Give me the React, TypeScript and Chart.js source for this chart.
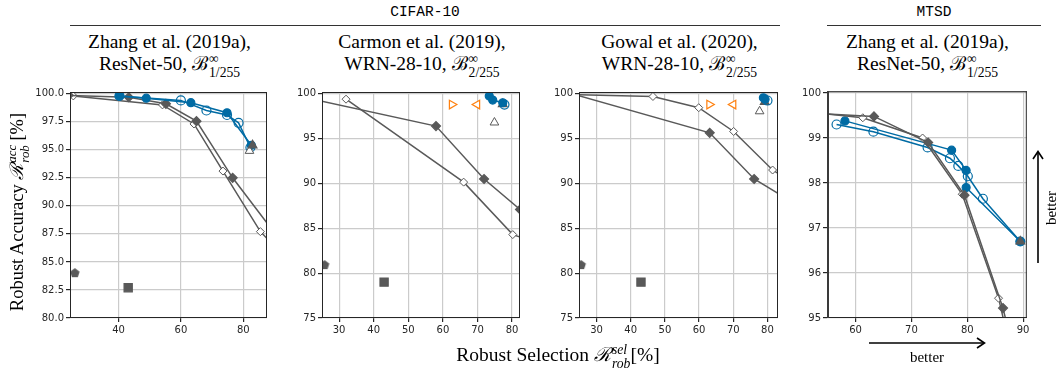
import React, { useEffect, useRef } from "react";
import { Chart, registerables } from "chart.js";

Chart.register(...registerables);

const BLUE = "#006BA4";
const ORANGE = "#FF800E";
const GRAY = "#595959";

type Pt = [number, number];

// ---------- Panel 1: CIFAR-10, Zhang et al. (2019a), ResNet-50 ----------
const p1XTicks = [40, 60, 80];
const p1YTicks = [80, 82.5, 85, 87.5, 90, 92.5, 95, 97.5, 100];
const p1GrayFilled: Pt[] = [[24.0, 99.85], [43.3, 99.68], [55.2, 99.1], [65.0, 97.55], [76.6, 92.5], [90.0, 87.6]];
const p1GrayOpen: Pt[] = [[25.5, 99.8], [54.1, 99.0], [64.2, 97.3], [73.5, 93.1], [85.5, 87.7], [90.0, 86.4]];
const p1BlueFilled: Pt[] = [[40.3, 99.8], [48.9, 99.6], [63.2, 99.2], [74.8, 98.3], [82.6, 95.4]];
const p1BlueOpen: Pt[] = [[40.3, 99.8], [60.0, 99.4], [68.2, 98.5], [74.8, 98.1], [78.5, 97.4], [82.3, 95.2]];
const p1TriFilled: Pt[] = [[83.0, 95.4]];
const p1TriOpen: Pt[] = [[82.0, 94.9]];
const p1Pentagon: Pt[] = [[26.0, 84.0]];
const p1Square: Pt[] = [[43.1, 82.7]];

// ---------- Panel 2: CIFAR-10, Carmon et al. (2019) ----------
const p2XTicks = [30, 40, 50, 60, 70, 80];
const p2YTicks = [75, 80, 85, 90, 95, 100];
const p2GrayFilled: Pt[] = [[20.0, 99.6], [58.0, 96.4], [71.9, 90.5], [82.3, 87.1], [90.0, 84.6]];
const p2GrayOpen: Pt[] = [[32.0, 99.4], [66.0, 90.15], [80.2, 84.3], [90.0, 83.0]];
const p2BlueFilled: Pt[] = [[73.4, 99.75], [74.4, 99.3], [77.3, 99.0]];
const p2BlueOpen: Pt[] = [[77.8, 98.8]];
const p2TriFilled: Pt[] = [[77.3, 98.85]];
const p2TriOpen: Pt[] = [[74.9, 96.8]];
const p2OrangeRight: Pt[] = [[62.6, 98.8]];
const p2OrangeLeft: Pt[] = [[69.9, 98.8]];
const p2Pentagon: Pt[] = [[25.8, 80.9]];
const p2Square: Pt[] = [[43.0, 79.0]];

// ---------- Panel 3: CIFAR-10, Gowal et al. (2020) ----------
const p3XTicks = [30, 40, 50, 60, 70, 80];
const p3YTicks = [75, 80, 85, 90, 95, 100];
const p3GrayFilled: Pt[] = [[20.0, 100.3], [63.1, 95.65], [76.1, 90.5], [90.0, 87.3]];
const p3GrayOpen: Pt[] = [[20.0, 99.95], [46.5, 99.7], [59.9, 98.45], [70.1, 95.8], [81.5, 91.5], [90.0, 89.5]];
const p3BlueFilled: Pt[] = [[78.8, 99.55], [79.3, 99.4]];
const p3BlueOpen: Pt[] = [[80.0, 99.25]];
const p3TriFilled: Pt[] = [[79.2, 99.1]];
const p3TriOpen: Pt[] = [[77.7, 98.05]];
const p3OrangeRight: Pt[] = [[63.0, 98.8]];
const p3OrangeLeft: Pt[] = [[70.0, 98.8]];
const p3Pentagon: Pt[] = [[25.5, 80.9]];
const p3Square: Pt[] = [[43.0, 79.0]];

// ---------- Panel 4: MTSD, Zhang et al. (2019a) ----------
const p4XTicks = [60, 70, 80, 90];
const p4YTicks = [95, 96, 97, 98, 99, 100];
const p4GrayFilled: Pt[] = [[50.0, 99.56], [63.3, 99.48], [73.0, 98.9], [79.5, 97.73], [86.4, 95.22], [88.0, 94.4]];
const p4GrayOpen: Pt[] = [[50.0, 99.6], [61.3, 99.45], [72.0, 99.0], [79.1, 97.75], [85.6, 95.44], [87.0, 94.7]];
const p4BlueFilled: Pt[] = [[58.1, 99.38], [77.2, 98.73], [79.8, 98.28], [79.8, 97.9], [89.5, 96.7]];
const p4BlueOpen: Pt[] = [[56.6, 99.3], [63.2, 99.14], [72.9, 98.79], [76.9, 98.55], [78.4, 98.38], [80.1, 98.15], [82.8, 97.65], [89.5, 96.7]];
const p4TriFilled: Pt[] = [[89.5, 96.7]];

function pentagonCanvas(color: string, r: number): HTMLCanvasElement {
  const c = document.createElement("canvas");
  const s = Math.ceil(r * 2 + 2);
  c.width = s;
  c.height = s;
  const ctx = c.getContext("2d")!;
  ctx.fillStyle = color;
  ctx.beginPath();
  for (let i = 0; i < 5; i++) {
    const a = -Math.PI / 2 + (i * 2 * Math.PI) / 5;
    const x = s / 2 + r * Math.cos(a);
    const y = s / 2 + r * Math.sin(a);
    if (i === 0) ctx.moveTo(x, y);
    else ctx.lineTo(x, y);
  }
  ctx.closePath();
  ctx.fill();
  return c;
}

type Kind =
  | "blueFilled" | "blueOpen" | "grayFilled" | "grayOpen"
  | "triFilled" | "triOpen" | "orangeRight" | "orangeLeft"
  | "pentagon" | "square";

function makeDataset(kind: Kind, pts: Pt[]): any {
  const data = pts.map(([x, y]) => ({ x, y }));
  const base: any = { data, borderWidth: 1.5, pointBorderWidth: 1.2, showLine: false, pointHoverRadius: 0 };
  switch (kind) {
    case "blueFilled":
      return { ...base, showLine: true, borderColor: BLUE, pointStyle: "circle", pointRadius: 4, pointBackgroundColor: BLUE, pointBorderColor: BLUE };
    case "blueOpen":
      return { ...base, showLine: true, borderColor: BLUE, pointStyle: "circle", pointRadius: 4.5, pointBackgroundColor: "rgba(255,255,255,0)", pointBorderColor: BLUE };
    case "grayFilled":
      return { ...base, showLine: true, borderColor: GRAY, pointStyle: "rectRot", pointRadius: 4.5, pointBackgroundColor: GRAY, pointBorderColor: GRAY };
    case "grayOpen":
      return { ...base, showLine: true, borderColor: GRAY, pointStyle: "rectRot", pointRadius: 4, pointBackgroundColor: "#ffffff", pointBorderColor: GRAY, pointBorderWidth: 1 };
    case "triFilled":
      return { ...base, pointStyle: "triangle", pointRadius: 5, pointBackgroundColor: GRAY, pointBorderColor: GRAY };
    case "triOpen":
      return { ...base, pointStyle: "triangle", pointRadius: 5, pointBackgroundColor: "#ffffff", pointBorderColor: GRAY, pointBorderWidth: 1 };
    case "orangeRight":
      return { ...base, pointStyle: "triangle", pointRotation: 90, pointRadius: 5, pointBackgroundColor: "#ffffff", pointBorderColor: ORANGE, pointBorderWidth: 1.2 };
    case "orangeLeft":
      return { ...base, pointStyle: "triangle", pointRotation: 270, pointRadius: 5, pointBackgroundColor: "#ffffff", pointBorderColor: ORANGE, pointBorderWidth: 1.2 };
    case "pentagon":
      return { ...base, pointStyle: pentagonCanvas(GRAY, 5), pointRadius: 5 };
    case "square":
      return { ...base, pointStyle: "rect", pointRadius: 5.8, pointBackgroundColor: GRAY, pointBorderColor: GRAY };
  }
}

interface PanelSpec {
  plotLeft: number;
  plotWidth: number;
  xMin: number;
  xMax: number;
  yMin: number;
  yMax: number;
  xTicks: number[];
  yTicks: number[];
  yDecimals: number;
  leftBorder: number;
  series: [Kind, Pt[]][];
}

const PLOT_TOP = 90;
const PLOT_BOTTOM = 318;
const Y_AXIS_W = 50;
const X_AXIS_H = 20;

const panels: PanelSpec[] = [
  {
    plotLeft: 70, plotWidth: 199, xMin: 24.44, xMax: 87.62, yMin: 80, yMax: 100.15,
    xTicks: p1XTicks, yTicks: p1YTicks, yDecimals: 1, leftBorder: 1,
    series: [
      ["triFilled", p1TriFilled], ["triOpen", p1TriOpen],
      ["blueFilled", p1BlueFilled], ["blueOpen", p1BlueOpen],
      ["grayFilled", p1GrayFilled], ["grayOpen", p1GrayOpen],
      ["pentagon", p1Pentagon], ["square", p1Square],
    ],
  },
  {
    plotLeft: 322, plotWidth: 200, xMin: 25.05, xMax: 82.29, yMin: 75, yMax: 100.2,
    xTicks: p2XTicks, yTicks: p2YTicks, yDecimals: 0, leftBorder: 1,
    series: [
      ["orangeRight", p2OrangeRight], ["orangeLeft", p2OrangeLeft],
      ["blueOpen", p2BlueOpen], ["blueFilled", p2BlueFilled],
      ["triFilled", p2TriFilled], ["triOpen", p2TriOpen],
      ["grayFilled", p2GrayFilled], ["grayOpen", p2GrayOpen],
      ["pentagon", p2Pentagon], ["square", p2Square],
    ],
  },
  {
    plotLeft: 579, plotWidth: 201, xMin: 24.87, xMax: 83.08, yMin: 75, yMax: 100.2,
    xTicks: p3XTicks, yTicks: p3YTicks, yDecimals: 0, leftBorder: 1,
    series: [
      ["orangeRight", p3OrangeRight], ["orangeLeft", p3OrangeLeft],
      ["blueOpen", p3BlueOpen], ["blueFilled", p3BlueFilled],
      ["triFilled", p3TriFilled], ["triOpen", p3TriOpen],
      ["grayFilled", p3GrayFilled], ["grayOpen", p3GrayOpen],
      ["pentagon", p3Pentagon], ["square", p3Square],
    ],
  },
  {
    plotLeft: 827, plotWidth: 201, xMin: 54.89, xMax: 90.66, yMin: 95, yMax: 100.04,
    xTicks: p4XTicks, yTicks: p4YTicks, yDecimals: 0, leftBorder: 2,
    series: [
      ["triFilled", p4TriFilled],
      ["grayFilled", p4GrayFilled], ["grayOpen", p4GrayOpen],
      ["blueFilled", p4BlueFilled], ["blueOpen", p4BlueOpen],
    ],
  },
];

const boxPlugin = {
  id: "boxPlugin",
  afterDraw(chart: any, _args: any, opts: any) {
    const { ctx, chartArea } = chart;
    const { left, right, top, bottom } = chartArea;
    ctx.save();
    ctx.strokeStyle = "#262626";
    ctx.lineWidth = 1;
    ctx.beginPath();
    ctx.moveTo(left, top + 0.5);
    ctx.lineTo(right, top + 0.5);
    ctx.moveTo(right - 0.5, top);
    ctx.lineTo(right - 0.5, bottom);
    ctx.moveTo(left, bottom - 0.5);
    ctx.lineTo(right, bottom - 0.5);
    ctx.stroke();
    const lw = opts && opts.leftWidth ? opts.leftWidth : 1;
    ctx.strokeStyle = lw > 1 ? "#3a3a3a" : "#262626";
    ctx.lineWidth = lw;
    ctx.beginPath();
    ctx.moveTo(left + lw / 2, top);
    ctx.lineTo(left + lw / 2, bottom);
    ctx.stroke();
    ctx.restore();
  },
};

function Panel({ spec }: { spec: PanelSpec }) {
  const ref = useRef<HTMLCanvasElement | null>(null);
  const width = spec.plotWidth + Y_AXIS_W + 5;
  const height = PLOT_BOTTOM + X_AXIS_H - (PLOT_TOP - 5);
  useEffect(() => {
    if (!ref.current) return;
    const tickFont = { family: "'DejaVu Sans', sans-serif", size: 10 };
    const chart = new Chart(ref.current, {
      type: "scatter",
      data: { datasets: spec.series.map(([k, pts]) => makeDataset(k, pts)) },
      plugins: [boxPlugin],
      options: {
        animation: false,
        responsive: false,
        devicePixelRatio: 1,
        events: [],
        layout: { padding: { top: 5, right: 5, left: 0, bottom: 0 } },
        plugins: {
          legend: { display: false },
          tooltip: { enabled: false },
          boxPlugin: { leftWidth: spec.leftBorder },
        } as any,
        scales: {
          x: {
            type: "linear",
            min: spec.xMin,
            max: spec.xMax,
            border: { display: false },
            grid: { color: "#cbcbcb", lineWidth: 1.2, tickColor: "#262626", tickLength: 4, drawTicks: true },
            ticks: { font: tickFont, color: "#262626", padding: 2, maxRotation: 0, callback: (v: any) => String(v) },
            afterBuildTicks: (scale: any) => {
              scale.ticks = spec.xTicks.map((v) => ({ value: v }));
            },
            afterFit: (scale: any) => {
              scale.height = X_AXIS_H;
              scale.paddingLeft = 0;
              scale.paddingRight = 0;
            },
          },
          y: {
            type: "linear",
            min: spec.yMin,
            max: spec.yMax,
            border: { display: false },
            grid: { color: "#cbcbcb", lineWidth: 1.2, tickColor: "#262626", tickLength: 4, drawTicks: true },
            ticks: {
              font: tickFont,
              color: "#262626",
              padding: 2,
              callback: (v: any) => Number(v).toFixed(spec.yDecimals),
            },
            afterBuildTicks: (scale: any) => {
              scale.ticks = spec.yTicks.map((v) => ({ value: v }));
            },
            afterFit: (scale: any) => {
              scale.width = Y_AXIS_W;
              scale.paddingTop = 0;
              scale.paddingBottom = 0;
            },
          },
        },
      } as any,
    });
    return () => chart.destroy();
  }, [spec]);
  return (
    <canvas
      ref={ref}
      width={width}
      height={height}
      style={{
        position: "absolute",
        left: spec.plotLeft - Y_AXIS_W,
        top: PLOT_TOP - 5,
        width,
        height,
      }}
    />
  );
}

const serif = "'Liberation Serif', 'Times New Roman', serif";

function Stack({ sup, sub, italic }: { sup: string; sub: string; italic?: boolean }) {
  const longer = sub.length >= sup.length ? sub : sup;
  return (
    <span
      style={{
        position: "relative",
        display: "inline-block",
        fontSize: "0.7em",
        lineHeight: 1,
        marginLeft: 1,
        fontStyle: italic ? "italic" : "normal",
      }}
    >
      <span style={{ visibility: "hidden" }}>{longer}</span>
      <span style={{ position: "absolute", left: 0, top: "-0.55em" }}>{sup}</span>
      <span style={{ position: "absolute", left: 0, top: "0.5em" }}>{sub}</span>
    </span>
  );
}

const subtitleLines: [string, string][] = [
  ["Zhang et al. (2019a),", "1/255"],
  ["Carmon et al. (2019),", "2/255"],
  ["Gowal et al. (2020),", "2/255"],
  ["Zhang et al. (2019a),", "1/255"],
];
const subtitleModels = ["ResNet-50,", "WRN-28-10,", "WRN-28-10,", "ResNet-50,"];

export default function App() {
  return (
    <div
      style={{
        position: "absolute",
        left: 0,
        top: 0,
        width: 1058,
        height: 371,
        background: "#ffffff",
        overflow: "hidden",
        fontFamily: serif,
        color: "#000",
      }}
    >
      {/* group headers */}
      <div style={{ position: "absolute", left: 70, width: 710, top: 3, textAlign: "center", fontFamily: "'Liberation Mono', 'DejaVu Sans Mono', monospace", fontSize: 14.5, lineHeight: "18px" }}>
        CIFAR-10
      </div>
      <div style={{ position: "absolute", left: 70, width: 710, top: 25, height: 1, background: "#333" }} />
      <div style={{ position: "absolute", left: 827, width: 214, top: 3, textAlign: "center", fontFamily: "'Liberation Mono', 'DejaVu Sans Mono', monospace", fontSize: 14.5, lineHeight: "18px" }}>
        MTSD
      </div>
      <div style={{ position: "absolute", left: 827, width: 214, top: 25, height: 1, background: "#333" }} />

      {panels.map((p, i) => (
        <div
          key={"t" + i}
          style={{
            position: "absolute",
            left: p.plotLeft + p.plotWidth / 2 - 130,
            width: 260,
            top: 31,
            textAlign: "center",
            fontSize: 19.5,
            lineHeight: "22px",
            whiteSpace: "nowrap",
          }}
        >
          <div style={{ height: 22 }}>{subtitleLines[i][0]}</div>
          <div style={{ height: 22 }}>
            {subtitleModels[i]} ℬ<Stack sup="∞" sub={subtitleLines[i][1]} />
          </div>
        </div>
      ))}

      {panels.map((p, i) => (
        <Panel key={"p" + i} spec={p} />
      ))}

      {/* y axis label */}
      <div
        style={{
          position: "absolute",
          left: 17,
          top: 212,
          transform: "translate(-50%, -50%) rotate(-90deg)",
          whiteSpace: "nowrap",
          fontSize: 18.5,
          lineHeight: "20px",
        }}
      >
        Robust Accuracy <i>ℛ</i>
        <Stack sup="acc" sub="rob" italic /> [%]
      </div>

      {/* x axis label */}
      <div
        style={{
          position: "absolute",
          left: 558,
          top: 355,
          transform: "translate(-50%, -50%)",
          whiteSpace: "nowrap",
          fontSize: 19.5,
          lineHeight: "20px",
        }}
      >
        Robust Selection <i>ℛ</i>
        <Stack sup="sel" sub="rob" italic />[%]
      </div>

      {/* better arrows */}
      <svg style={{ position: "absolute", left: 0, top: 0 }} width={1058} height={371}>
        <line x1={869} y1={343} x2={984} y2={343} stroke="#000" strokeWidth={1.6} />
        <polyline points="977,338 984.5,343 977,348" fill="none" stroke="#000" strokeWidth={1.6} />
        <line x1={1038} y1={263} x2={1038} y2={152} stroke="#000" strokeWidth={1.6} />
        <polyline points="1033,159 1038,151.5 1043,159" fill="none" stroke="#000" strokeWidth={1.6} />
      </svg>
      <div style={{ position: "absolute", left: 927, top: 357, transform: "translate(-50%, -50%)", fontSize: 15, lineHeight: "18px" }}>
        better
      </div>
      <div
        style={{
          position: "absolute",
          left: 1051,
          top: 208,
          transform: "translate(-50%, -50%) rotate(-90deg)",
          fontSize: 15,
          lineHeight: "18px",
        }}
      >
        better
      </div>
    </div>
  );
}
